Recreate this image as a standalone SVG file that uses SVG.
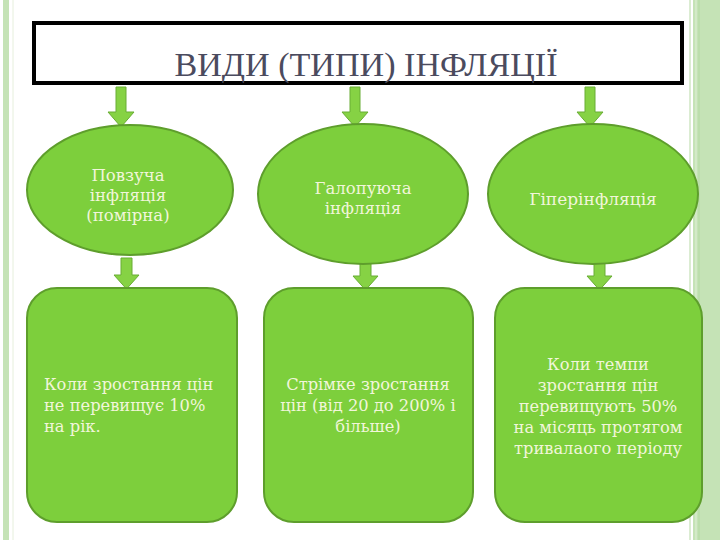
<svg xmlns="http://www.w3.org/2000/svg" width="720" height="540" viewBox="0 0 720 540">
<style>
.node{fill:#7dcf3c;stroke:#5e9e2c;stroke-width:2}
.arrow{fill:#86d244;stroke:#69ad34;stroke-width:1}
</style>
<rect x="0" y="0" width="720" height="540" fill="#ffffff"/>
<g id="frame">
<rect x="3" y="0" width="6" height="540" fill="#c5e3b6"/>
<line x1="13" y1="0" x2="13" y2="540" stroke="#e6efdc" stroke-width="1"/>
<line x1="690" y1="0" x2="690" y2="540" stroke="#cfe6c3" stroke-width="1.5"/>
<rect x="693" y="0" width="27" height="540" fill="#c5e3b6"/>
<line x1="696" y1="0" x2="696" y2="540" stroke="#e2f0da" stroke-width="1"/>
<line x1="699" y1="0" x2="699" y2="540" stroke="#b3d9a2" stroke-width="1"/>
</g>
<g id="title">
<rect x="34" y="23" width="648" height="60" fill="#ffffff" stroke="#000000" stroke-width="4"/>
<text x="366" y="76" font-family="Liberation Serif, serif" font-size="34" fill="#4b4b5e" text-anchor="middle" textLength="383" lengthAdjust="spacingAndGlyphs">ВИДИ (ТИПИ) ІНФЛЯЦІЇ</text>
</g>
<g id="connectors">
<path class="arrow" d="M116,87 H126 V112 H134 L121,127 L108,112 H116 Z"/>
<path class="arrow" d="M350,87 H360 V112 H368 L355,127 L342,112 H350 Z"/>
<path class="arrow" d="M585,87 H595 V112 H603 L590,127 L577,112 H585 Z"/>
<path class="arrow" d="M121,258 H132 V275 H139 L126.5,289 L114,275 H121 Z"/>
<path class="arrow" d="M360,262 H371 V276 H378 L365.5,290 L353,276 H360 Z"/>
<path class="arrow" d="M594,262 H605 V276 H612 L599.5,290 L587,276 H594 Z"/>
</g>
<g id="e1" font-family="DejaVu Serif, Liberation Serif, serif" font-size="16.5" fill="#f1f6da" text-anchor="middle">
<ellipse class="node" cx="130" cy="190" rx="103" ry="65"/>
<text x="128" y="181" fill="#f1f6da">Повзуча</text>
<text x="128" y="201" fill="#f1f6da">інфляція</text>
<text x="128" y="221" fill="#f1f6da">(помірна)</text>
</g>
<g id="e2" font-family="DejaVu Serif, Liberation Serif, serif" font-size="16.5" fill="#f1f6da" text-anchor="middle">
<ellipse class="node" cx="363" cy="194" rx="105" ry="70"/>
<text x="363" y="194" fill="#f1f6da">Галопуюча</text>
<text x="363" y="214" fill="#f1f6da">інфляція</text>
</g>
<g id="e3" font-family="DejaVu Serif, Liberation Serif, serif" font-size="17" fill="#f1f6da" text-anchor="middle">
<ellipse class="node" cx="593" cy="194" rx="105" ry="70"/>
<text x="593" y="205" fill="#f1f6da">Гіперінфляція</text>
</g>
<g id="r1" font-family="DejaVu Serif, Liberation Serif, serif" font-size="16.3" fill="#f1f6da">
<rect class="node" x="27" y="288" width="210" height="234" rx="30"/>
<text x="44" y="390" fill="#f1f6da">Коли зростання цін</text>
<text x="44" y="411" fill="#f1f6da">не перевищує 10%</text>
<text x="44" y="432" fill="#f1f6da">на рік.</text>
</g>
<g id="r2" font-family="DejaVu Serif, Liberation Serif, serif" font-size="16.3" fill="#f1f6da" text-anchor="middle">
<rect class="node" x="264" y="288" width="209" height="234" rx="30"/>
<text x="368" y="390" fill="#f1f6da">Стрімке зростання</text>
<text x="368" y="411" fill="#f1f6da">цін (від 20 до 200% і</text>
<text x="368" y="432" fill="#f1f6da">більше)</text>
</g>
<g id="r3" font-family="DejaVu Serif, Liberation Serif, serif" font-size="16.3" fill="#f1f6da" text-anchor="middle">
<rect class="node" x="495" y="288" width="207" height="234" rx="30"/>
<text x="598" y="370" fill="#f1f6da">Коли темпи</text>
<text x="598" y="391" fill="#f1f6da">зростання цін</text>
<text x="598" y="412" fill="#f1f6da">перевищують 50%</text>
<text x="598" y="433" fill="#f1f6da">на місяць протягом</text>
<text x="598" y="454" fill="#f1f6da">тривалаого періоду</text>
</g>
</svg>
